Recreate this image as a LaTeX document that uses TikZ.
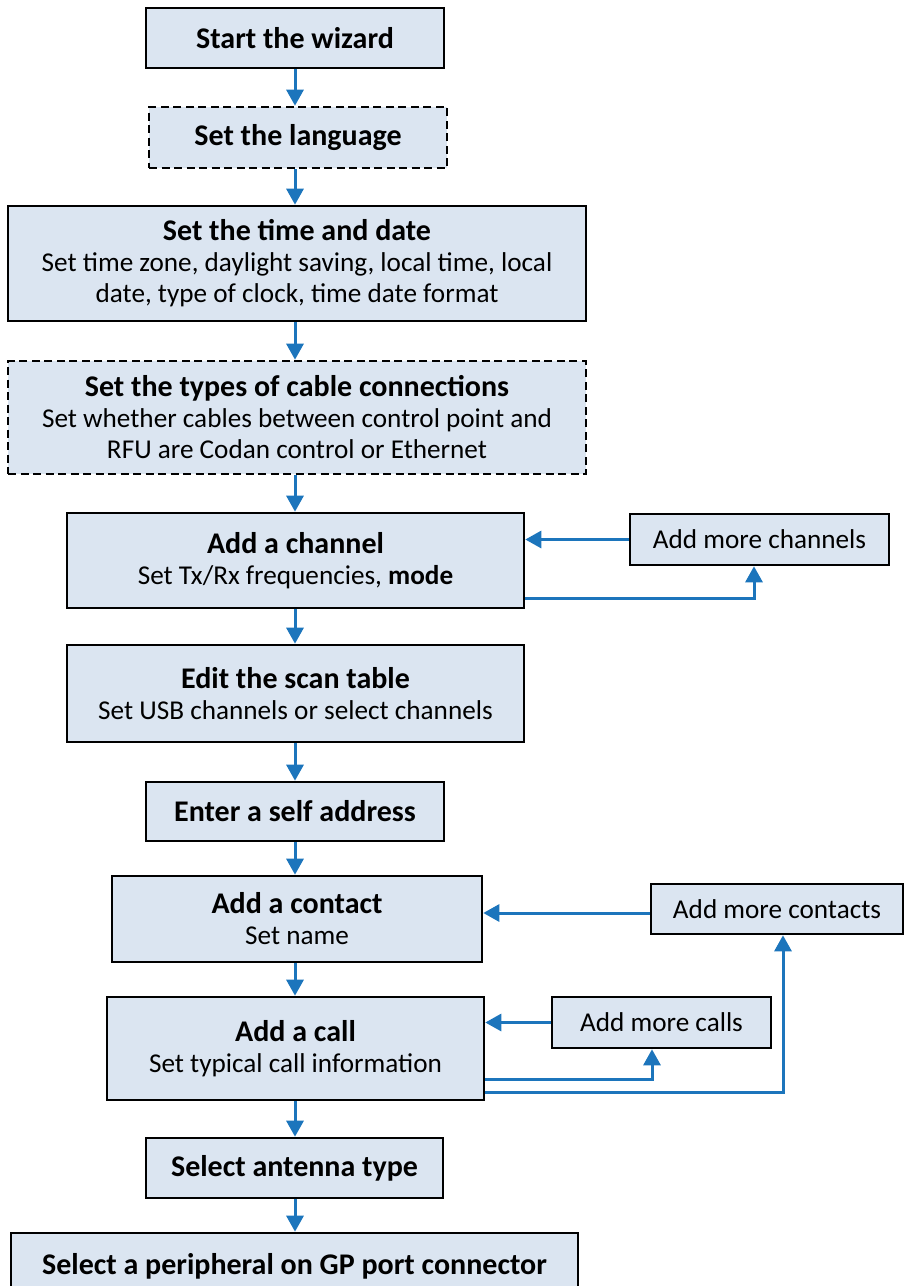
\documentclass[tikz,border=0pt]{standalone}
\usepackage{fontspec}
\setmainfont{Carlito}
\usetikzlibrary{arrows.meta,calc}
\definecolor{boxfill}{HTML}{DBE5F1}
\definecolor{arrblue}{HTML}{1C75BC}
\newcommand\ttl[1]{{\fontsize{30}{33}\selectfont\bfseries #1}}
\begin{document}
\begin{tikzpicture}[x=1pt,y=-1pt,
 box/.style={draw=black, line width=2.6pt, fill=boxfill, inner sep=0pt, align=center, font=\fontsize{27.2}{31}\selectfont},
 dbox/.style={box, dash pattern=on 8pt off 4.5pt},
 arr/.style={draw=arrblue, line width=3pt, -{Triangle[length=16pt,width=17pt]}}]
\useasboundingbox (0,0) rectangle (904,1286);

\node[box, minimum width=298pt, minimum height=60pt] (start) at (295,38) {\ttl{Start the wizard}};
\node[dbox, minimum width=298pt, minimum height=61pt] (lang) at (298,137.5) {\ttl{Set the language}};
\node[box, minimum width=578pt, minimum height=115pt] (time) at (297,263.5) {\ttl{Set the time and date}\\Set time zone, daylight saving, local time, local\\date, type of clock, time date format};
\node[dbox, minimum width=578pt, minimum height=113pt] (cable) at (297,417.5) {\ttl{Set the types of cable connections}\\Set whether cables between control point and\\RFU are Codan control or Ethernet};
\node[box, minimum width=457pt, minimum height=95pt] (chan) at (295.5,560.5) {\ttl{Add a channel}\\Set Tx/Rx frequencies, \textbf{mode}};
\node[box, minimum width=259pt, minimum height=51pt] (morechan) at (759.5,539.5) {Add more channels};
\node[box, minimum width=457pt, minimum height=97pt] (scan) at (295.5,693.5) {\ttl{Edit the scan table}\\Set USB channels or select channels};
\node[box, minimum width=298pt, minimum height=59pt] (self) at (295,811.5) {\ttl{Enter a self address}};
\node[box, minimum width=370pt, minimum height=86pt] (contact) at (297,919) {\ttl{Add a contact}\\Set name};
\node[box, minimum width=252pt, minimum height=50pt] (morecontacts) at (777,909) {Add more contacts};
\node[box, minimum width=377pt, minimum height=103pt] (call) at (295.5,1048.5) {\ttl{Add a call}\\Set typical call information};
\node[box, minimum width=219pt, minimum height=51pt] (morecalls) at (661.5,1022.5) {Add more calls};
\node[box, minimum width=297pt, minimum height=60pt] (antenna) at (294.5,1168) {\ttl{Select antenna type}};
\node[box, minimum width=567pt, minimum height=67pt] (periph) at (294.5,1266.5) {\ttl{Select a peripheral on GP port connector}};

% main flow
\draw[arr] (start.south) -- (start.south |- lang.north);
\draw[arr] (start.south |- lang.south) -- (start.south |- time.north);
\draw[arr] (start.south |- time.south) -- (start.south |- cable.north);
\draw[arr] (start.south |- cable.south) -- (start.south |- chan.north);
\draw[arr] (start.south |- chan.south) -- (start.south |- scan.north);
\draw[arr] (start.south |- scan.south) -- (start.south |- self.north);
\draw[arr] (start.south |- self.south) -- (start.south |- contact.north);
\draw[arr] (start.south |- contact.south) -- (start.south |- call.north);
\draw[arr] (start.south |- call.south) -- (start.south |- antenna.north);
\draw[arr] (start.south |- antenna.south) -- (start.south |- periph.north);

% loops
\draw[arr] (morechan.west) -- (morechan.west -| chan.east);
\draw[arr] ($(chan.south east)+(0,-11)$) -| ([xshift=-5.5pt]morechan.south);
\draw[arr] ([yshift=-4pt]morecontacts.west) -- ([yshift=-4pt]morecontacts.west -| contact.east);
\draw[arr] (morecalls.west) -- (morecalls.west -| call.east);
\draw[arr] ($(call.south east)+(0,-22)$) -| ([xshift=-9.5pt]morecalls.south);
\draw[arr] ($(call.south east)+(0,-9)$) -| ([xshift=6pt]morecontacts.south);
\end{tikzpicture}
\end{document}
